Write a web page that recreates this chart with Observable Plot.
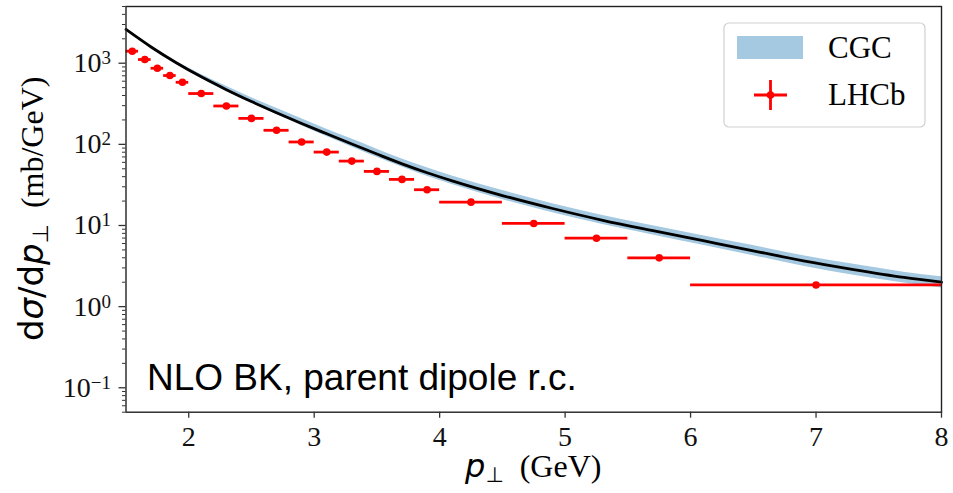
<!DOCTYPE html>
<html><head><meta charset="utf-8">
<script src="https://cdn.jsdelivr.net/npm/d3@7"></script>
<script src="https://cdn.jsdelivr.net/npm/@observablehq/plot@0.6"></script>
<style>
body{margin:0;background:#fff;}
#chart{position:relative;width:953px;height:493px;}
</style>
</head><body><div id="chart"></div>
<script>
// CGC theory curve (central value and uncertainty band), mb/GeV
const cgcPt      = [1.5, 1.7, 1.9, 2.1, 2.3, 2.5, 2.7, 2.9, 3.1, 3.3, 3.5, 3.7, 3.9, 4.1, 4.5, 4.9, 5.3, 5.7, 6.1, 6.5, 6.9, 7.3, 7.7, 8.0];
const cgcCentral = [2606, 1585, 1014, 679, 472, 337, 245.5, 181, 135, 101, 75.9, 57.5, 44.7, 35.5, 23.4, 16.2, 11.6, 8.63, 6.49, 4.88, 3.66, 2.86, 2.29, 2.0];
const cgcLow     = [2555, 1550, 985, 655, 452, 322, 233, 170, 125, 93, 69.5, 52.5, 40.5, 32, 20.9, 14.4, 10.3, 7.65, 5.7, 4.25, 3.15, 2.44, 1.95, 1.7];
const cgcHigh    = [2660, 1630, 1060, 728, 520, 375, 278, 207, 154, 116, 87, 66, 51.5, 40.8, 26.9, 18.6, 13.3, 9.9, 7.5, 5.65, 4.25, 3.32, 2.66, 2.33];

// LHCb data points
const lhcbPtLow  = [1.5, 1.6, 1.7, 1.8, 1.9, 2.0, 2.2, 2.4, 2.6, 2.8, 3.0, 3.2, 3.4, 3.6, 3.8, 4.0, 4.5, 5.0, 5.5, 6.0];
const lhcbPtHigh = [1.6, 1.7, 1.8, 1.9, 2.0, 2.2, 2.4, 2.6, 2.8, 3.0, 3.2, 3.4, 3.6, 3.8, 4.0, 4.5, 5.0, 5.5, 6.0, 8.0];
const lhcbPt     = [1.55, 1.65, 1.75, 1.85, 1.95, 2.1, 2.3, 2.5, 2.7, 2.9, 3.1, 3.3, 3.5, 3.7, 3.9, 4.25, 4.75, 5.25, 5.75, 7.0];
const lhcbValue  = [1406, 1110, 867, 705, 582, 423, 297, 209, 149, 107, 80.3, 62.2, 46.4, 37, 27.6, 19.4, 10.6, 6.97, 3.99, 1.85];

// axes
const xTicks = [2, 3, 4, 5, 6, 7, 8];
const yMajorTicks = [0.1, 1, 10, 100, 1000];
const yTickExponents = ["−1", "0", "1", "2", "3"];
const yMinorTicks = [0.05,0.06,0.07,0.08,0.09,0.2,0.3,0.4,0.5,0.6,0.7,0.8,0.9,2,3,4,5,6,7,8,9,20,30,40,50,60,70,80,90,200,300,400,500,600,700,800,900,2000,3000,4000,5000];
const legendLabels = ["CGC", "LHCb"];
const annotation = "NLO BK, parent dipole r.c.";

const cgc = cgcPt.map((p, i) => ({p, c: cgcCentral[i], lo: cgcLow[i], hi: cgcHigh[i]}));
const lhcb = lhcbPt.map((p, i) => ({p, lo: lhcbPtLow[i], hi: lhcbPtHigh[i], v: lhcbValue[i]}));

const SERIF = "'Liberation Serif', 'Times New Roman', serif";
const SANS_M = "'DejaVu Sans', sans-serif";
const SANS = "'Liberation Sans', Arial, sans-serif";

const ML = 125.5, MR = 12, MT = 6, MB = 81.3, W = 953, H = 493;

const plot = Plot.plot({
  width: W, height: H,
  marginLeft: ML, marginRight: MR, marginTop: MT, marginBottom: MB,
  x: {domain: [1.5, 8]},
  y: {type: "log", domain: [0.05, 5000]},
  style: {background: "#fff", overflow: "visible"},
  marks: [
    Plot.areaY(cgc, {x: "p", y1: "lo", y2: "hi", fill: "#a5c9e1", curve: "monotone-x"}),
    Plot.lineY(cgc, {x: "p", y: "c", stroke: "#000", strokeWidth: 2.8, curve: "monotone-x"}),
    Plot.ruleY(lhcb, {y: "v", x1: "lo", x2: "hi", stroke: "#ff0000", strokeWidth: 2.8}),
    Plot.dot(lhcb, {x: "p", y: "v", r: 3.8, fill: "#ff0000", stroke: null}),
    Plot.frame({stroke: "#222", strokeWidth: 1.4}),
    Plot.axisX({ticks: xTicks, tickSize: 6, tickPadding: 8, label: null, stroke: "#333", strokeWidth: 1.3, tickFormat: d => String(d)}),
    Plot.axisY({ticks: yMinorTicks, tickSize: 3.5, label: null, tickFormat: () => "", stroke: "#333", strokeWidth: 1}),
    Plot.axisY({ticks: yMajorTicks, tickSize: 7, tickPadding: 8, label: null, stroke: "#333", strokeWidth: 1.3,
      tickFormat: d => "10^" + yTickExponents[yMajorTicks.indexOf(d)]})
  ]
});
document.getElementById("chart").appendChild(plot);

const svg = d3.select(plot);

// tick label fonts + superscripts
svg.selectAll("text").each(function() {
  const t = d3.select(this);
  const s = this.textContent;
  if (s.startsWith("10^")) {
    const e = s.slice(3);
    t.text(null);
    t.style("font-size", "28px").style("font-family", SERIF).attr("fill", "#111");
    t.append("tspan").text("10");
    t.append("tspan").attr("dy", "-0.42em").style("font-size", "19px").text(e);
  } else if (/^\d$/.test(s)) {
    t.style("font-size", "28px").style("font-family", SERIF).attr("fill", "#111");
  }
});

const g = svg.append("g").attr("text-anchor", "start");

// annotation
g.append("text").attr("x", 147).attr("y", 390).attr("text-anchor", "start")
  .style("font-family", SANS).style("font-size", "37px").attr("fill", "#000").text(annotation);

// x label
const xl = g.append("text").attr("x", (ML + (W - MR)) / 2).attr("y", 477).attr("text-anchor", "middle").attr("fill", "#000");
xl.append("tspan").style("font-family", SANS_M).style("font-style", "italic").style("font-size", "32px").text("p");
xl.append("tspan").style("font-family", SANS_M).style("font-size", "21px").attr("dy", 5).text("⊥");
xl.append("tspan").style("font-family", SERIF).style("font-size", "32px").attr("dy", -5).text("\u00a0 (GeV)");

// y label
const yl = g.append("text").attr("transform", `translate(43,${(MT + (H - MB)) / 2}) rotate(-90)`).attr("text-anchor", "middle").attr("fill", "#000");
yl.append("tspan").style("font-family", SANS_M).style("font-size", "34px").text("d");
yl.append("tspan").style("font-family", SANS_M).style("font-style", "italic").style("font-size", "34px").text("σ");
yl.append("tspan").style("font-family", SANS_M).style("font-size", "34px").text("/d");
yl.append("tspan").style("font-family", SANS_M).style("font-style", "italic").style("font-size", "34px").text("p");
yl.append("tspan").style("font-family", SANS_M).style("font-size", "22px").attr("dy", 5).text("⊥");
yl.append("tspan").style("font-family", SERIF).style("font-size", "32px").attr("dy", -5).text("\u00a0 (mb/GeV)");

// legend
const lg = g.append("g");
lg.append("rect").attr("x", 724).attr("y", 23).attr("width", 201).attr("height", 104).attr("rx", 5)
  .attr("fill", "#fff").attr("fill-opacity", 0.85).attr("stroke", "#d0d0d0").attr("stroke-width", 1.2);
lg.append("rect").attr("x", 737).attr("y", 36).attr("width", 66).attr("height", 23).attr("fill", "#a5c9e1");
lg.append("text").attr("x", 828).attr("y", 58).attr("text-anchor", "start").style("font-family", SERIF).style("font-size", "31px").attr("fill", "#000").text(legendLabels[0]);
lg.append("line").attr("x1", 754).attr("x2", 787).attr("y1", 95).attr("y2", 95).attr("stroke", "#ff0000").attr("stroke-width", 2.8);
lg.append("line").attr("x1", 770.5).attr("x2", 770.5).attr("y1", 80).attr("y2", 110).attr("stroke", "#ff0000").attr("stroke-width", 2.8);
lg.append("circle").attr("cx", 770.5).attr("cy", 95).attr("r", 3.8).attr("fill", "#ff0000");
lg.append("text").attr("x", 828).attr("y", 105).attr("text-anchor", "start").style("font-family", SERIF).style("font-size", "31px").attr("fill", "#000").text(legendLabels[1]);
</script>
</body></html>
